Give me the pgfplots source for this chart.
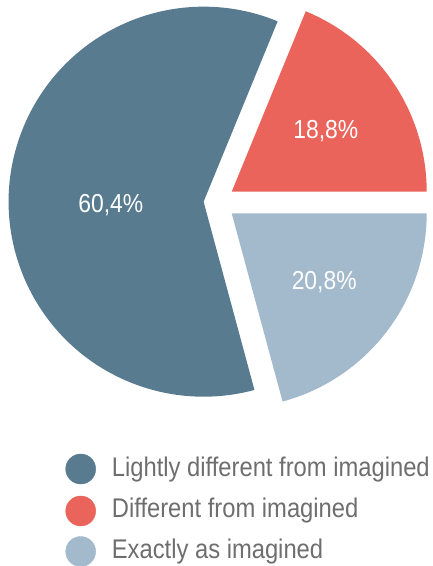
\documentclass[border=0pt]{standalone}
\usepackage{pgfplots}
\pgfplotsset{compat=1.18}
\usepackage{pgfplotstable}
\usepackage{fontspec}
\newfontfamily\chartfont[FakeStretch=0.88]{Liberation Sans}
\definecolor{bigc}{HTML}{587B8F}
\definecolor{redc}{HTML}{EA645B}
\definecolor{lightc}{HTML}{A3B9CC}
\definecolor{txtc}{HTML}{6E6E6E}
\pgfplotstableread{
share
60.4
18.8
20.8
}\piedata
\begin{document}
\begin{tikzpicture}
\path[use as bounding box] (0,0) rectangle (433pt,566pt);
\pgfplotstablegetelem{0}{share}\of\piedata \let\va\pgfplotsretval
\pgfplotstablegetelem{1}{share}\of\piedata \let\vb\pgfplotsretval
\pgfplotstablegetelem{2}{share}\of\piedata \let\vc\pgfplotsretval
\pgfmathsetmacro\aRed{3.6*\vb}
\pgfmathsetmacro\aBig{\aRed+3.6*\va}
\pgfmathsetmacro\aBlue{\aBig+3.6*\vc}
\begin{axis}[
  at={(0,0)}, anchor=south west,
  hide axis, scale only axis, width=433pt, height=566pt,
  xmin=0, xmax=433, ymin=-566, ymax=0, clip=false,
]
\fill[bigc] (axis cs:203.6,-201.7) -- ++(\aRed:195pt) arc[start angle=\aRed, end angle=\aBig, radius=195pt] -- cycle;
\fill[redc] (axis cs:231.7,-191.7) -- ++(0:195pt) arc[start angle=0, end angle=\aRed, radius=195pt] -- cycle;
\fill[lightc] (axis cs:231.7,-213.3) -- ++(\aBig:195pt) arc[start angle=\aBig, end angle=\aBlue, radius=195pt] -- cycle;
\node[anchor=base, white, inner sep=0pt, font=\chartfont\fontsize{26}{30}\selectfont] at (axis cs:110.8,-212.5) {60,4\%};
\node[anchor=base, white, inner sep=0pt, font=\chartfont\fontsize{26}{30}\selectfont] at (axis cs:325.8,-139) {18,8\%};
\node[anchor=base, white, inner sep=0pt, font=\chartfont\fontsize{26}{30}\selectfont] at (axis cs:324.2,-289.5) {20,8\%};
% legend
\addplot[only marks, mark=*, mark size=15pt, color=bigc] coordinates {(80.7,-469)};
\addplot[only marks, mark=*, mark size=15pt, color=redc] coordinates {(80.7,-511)};
\addplot[only marks, mark=*, mark size=15pt, color=lightc] coordinates {(80.7,-551.5)};
\node[anchor=base west, inner sep=0pt, text=txtc, font=\chartfont\fontsize{27}{30}\selectfont] at (axis cs:111.7,-476.7) {Lightly different from imagined};
\node[anchor=base west, inner sep=0pt, text=txtc, font=\chartfont\fontsize{27}{30}\selectfont] at (axis cs:111.7,-517.5) {Different from imagined};
\node[anchor=base west, inner sep=0pt, text=txtc, font=\chartfont\fontsize{27}{30}\selectfont] at (axis cs:111.7,-558.3) {Exactly as imagined};
\end{axis}
\end{tikzpicture}
\end{document}
